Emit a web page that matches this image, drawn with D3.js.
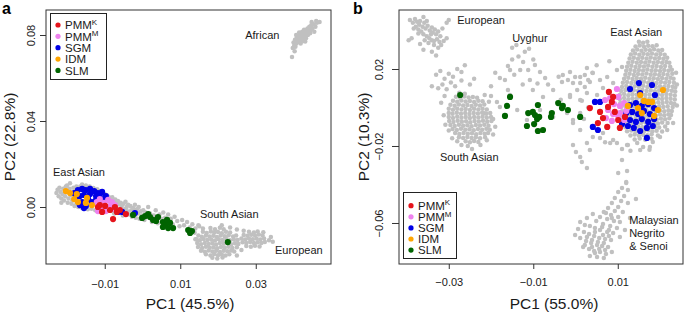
<!DOCTYPE html>
<html>
<head>
<meta charset="utf-8">
<script src="https://cdn.jsdelivr.net/npm/d3@7"></script>
<style>
  body { margin: 0; background: #fff; }
  svg { font-family: "Liberation Sans", Arial, Helvetica, sans-serif; }
</style>
</head>
<body>
<div id="chart"></div>
<script>
// ---------- dados (PC1, PC2) ----------
const legendNames = ["PMM", "PMM", "SGM", "IDM", "SLM"];
const legendSup = ["K", "M", "", "", ""];

// painel a
const aTicksX = [-0.01, 0.01, 0.03];
const aTicksY = [0.00, 0.04, 0.08];
const aTitleX = "PC1 (45.5%)";
const aTitleY = "PC2 (22.8%)";
const aLabels = [
  { text: "African", x: 0.0272, y: 0.0781 },
  { text: "East Asian", x: -0.0237, y: 0.0144 },
  { text: "South Asian", x: 0.0152, y: -0.0051 },
  { text: "European", x: 0.0351, y: -0.0219 }
];

const aGray = [
  // African
  [0.0398,0.0740],[0.0402,0.0752],[0.0405,0.0745],[0.0400,0.0765],[0.0408,0.0760],[0.0410,0.0772],[0.0404,0.0778],[0.0413,0.0783],[0.0415,0.0768],[0.0418,0.0790],[0.0412,0.0795],[0.0420,0.0778],[0.0422,0.0800],[0.0417,0.0805],[0.0425,0.0788],[0.0427,0.0810],[0.0423,0.0815],[0.0430,0.0795],[0.0432,0.0820],[0.0428,0.0825],[0.0435,0.0805],[0.0437,0.0830],[0.0440,0.0815],[0.0442,0.0838],[0.0445,0.0822],[0.0447,0.0845],[0.0450,0.0830],[0.0453,0.0850],[0.0458,0.0838],[0.0462,0.0857],[0.0455,0.0815],[0.0419,0.0760],[0.0426,0.0772],[0.0433,0.0785],[0.0409,0.0790],[0.0415,0.0812],[0.0438,0.0800],[0.0444,0.0808],[0.0396,0.0698],[0.0403,0.0725],[0.0469,0.0860],[0.0460,0.0865],[0.0448,0.0860],[0.0407,0.0800],[0.0431,0.0770],
  // East Asian band
  [-0.0228,0.0065],[-0.0225,0.0080],[-0.0222,0.0050],[-0.0220,0.0090],[-0.0217,0.0070],[-0.0215,0.0040],[-0.0212,0.0060],[-0.0210,0.0085],[-0.0208,0.0030],[-0.0205,0.0050],[-0.0203,0.0095],[-0.0200,0.0070],[-0.0198,0.0020],[-0.0196,0.0040],[-0.0193,0.0085],[-0.0190,0.0055],[-0.0188,0.0015],[-0.0186,0.0030],[-0.0183,0.0090],[-0.0180,0.0005],[-0.0178,0.0075],[-0.0192,0.0110],[-0.0175,0.0015],[-0.0170,0.0000],[-0.0165,0.0095],[-0.0160,-0.0005],[-0.0155,0.0092],[-0.0150,0.0100],[-0.0145,-0.0010],[-0.0140,0.0095],[-0.0135,-0.0008],[-0.0130,0.0088],[-0.0125,-0.0015],[-0.0120,0.0082],[-0.0115,0.0075],[-0.0110,0.0068],[-0.0105,-0.0025],[-0.0100,0.0060],[-0.0095,0.0055],[-0.0090,0.0048],[-0.0085,0.0042],[-0.0080,0.0045],[-0.0078,0.0030],[-0.0075,-0.0030],[-0.0072,0.0035],[-0.0068,0.0020],[-0.0065,0.0028],[-0.0062,0.0012],[-0.0058,0.0020],[-0.0055,0.0005],[-0.0052,-0.0040],[-0.0050,0.0015],[-0.0047,-0.0010],[-0.0045,0.0025],[-0.0042,0.0000],[-0.0040,-0.0020],[-0.0038,0.0010],[-0.0035,-0.0035],[-0.0032,0.0005],[-0.0030,-0.0015],[-0.0028,-0.0045],[-0.0025,-0.0005],[-0.0022,-0.0020],[-0.0020,0.0010],[-0.0018,-0.0050],[-0.0015,-0.0010],[-0.0012,-0.0030],[-0.0010,0.0000],[-0.0008,-0.0055],[-0.0005,-0.0020],[-0.0002,-0.0040],[0.0002,-0.0015],[0.0005,-0.0060],[0.0008,-0.0025],[0.0012,-0.0045],[0.0015,0.0000],[0.0020,-0.0030],[0.0025,-0.0070],[0.0030,-0.0040],[0.0035,-0.0015],[0.0040,-0.0075],[0.0045,-0.0035],[0.0050,-0.0055],[0.0055,-0.0025],[0.0060,-0.0050],[0.0068,-0.0035],[0.0075,-0.0055],[0.0080,-0.0080],[0.0085,-0.0045],[0.0092,-0.0065],[0.0098,-0.0090],[0.0105,-0.0060],[0.0110,-0.0085],[0.0118,-0.0070],[0.0125,-0.0095],[0.0132,-0.0080],[0.0140,-0.0100],[0.0148,-0.0085],[-0.0200,0.0100],[-0.0215,0.0020],[-0.0175,0.0095],[-0.0160,0.0105],
  // South Asian / European blobs
  [0.0180,-0.0098],[0.0192,-0.0103],[0.0205,-0.0097],[0.0215,-0.0104],
  [0.0160,-0.0115],[0.0170,-0.0121],[0.0181,-0.0114],[0.0190,-0.0119],[0.0200,-0.0116],[0.0210,-0.0122],[0.0221,-0.0115],[0.0232,-0.0119],
  [0.0148,-0.0133],[0.0157,-0.0138],[0.0168,-0.0132],[0.0178,-0.0137],[0.0188,-0.0134],[0.0197,-0.0139],[0.0207,-0.0133],[0.0218,-0.0136],[0.0228,-0.0131],[0.0240,-0.0137],[0.0248,-0.0133],
  [0.0143,-0.0150],[0.0152,-0.0155],[0.0162,-0.0149],[0.0172,-0.0154],[0.0182,-0.0151],[0.0192,-0.0156],[0.0202,-0.0150],[0.0212,-0.0153],[0.0222,-0.0149],[0.0232,-0.0155],[0.0242,-0.0151],[0.0252,-0.0154],
  [0.0145,-0.0168],[0.0155,-0.0173],[0.0165,-0.0167],[0.0175,-0.0172],[0.0185,-0.0169],[0.0195,-0.0174],[0.0205,-0.0168],[0.0215,-0.0171],[0.0225,-0.0167],[0.0235,-0.0173],[0.0245,-0.0169],[0.0254,-0.0172],
  [0.0147,-0.0186],[0.0158,-0.0191],[0.0168,-0.0185],[0.0178,-0.0190],[0.0188,-0.0187],[0.0198,-0.0192],[0.0208,-0.0186],[0.0218,-0.0189],[0.0228,-0.0185],[0.0238,-0.0191],[0.0250,-0.0187],
  [0.0155,-0.0203],[0.0165,-0.0208],[0.0175,-0.0202],[0.0185,-0.0207],[0.0195,-0.0204],[0.0205,-0.0209],[0.0215,-0.0203],[0.0225,-0.0206],[0.0235,-0.0202],[0.0243,-0.0207],
  [0.0168,-0.0220],[0.0180,-0.0225],[0.0190,-0.0219],[0.0200,-0.0224],[0.0210,-0.0221],[0.0220,-0.0226],[0.0230,-0.0220],
  [0.0185,-0.0236],[0.0198,-0.0240],[0.0212,-0.0235],
  [0.0282,-0.0115],[0.0295,-0.0119],[0.0305,-0.0114],
  [0.0268,-0.0130],[0.0278,-0.0134],[0.0288,-0.0129],[0.0298,-0.0133],[0.0308,-0.0128],[0.0318,-0.0132],
  [0.0262,-0.0147],[0.0272,-0.0151],[0.0282,-0.0146],[0.0292,-0.0150],[0.0302,-0.0147],[0.0312,-0.0151],[0.0322,-0.0146],
  [0.0265,-0.0164],[0.0275,-0.0168],[0.0285,-0.0163],[0.0295,-0.0167],[0.0305,-0.0164],[0.0315,-0.0168],[0.0324,-0.0163],
  [0.0275,-0.0181],[0.0287,-0.0185],[0.0298,-0.0180],[0.0310,-0.0184],
  [0.0335,-0.0155],[0.0340,-0.0140],[0.0250,-0.0105],[0.0232,-0.0095],[0.0210,-0.0085],[0.0268,-0.0110],[0.0320,-0.0118],[0.0150,-0.0090],[0.0160,-0.0100],[0.0138,-0.0120],[0.0140,-0.0150],[0.0250,-0.0225],[0.0262,-0.0200],[0.0345,-0.0162]
];

const aPmmK = [[-0.0118,0.0000],[-0.0107,-0.0023],[-0.0099,0.0005],[-0.0086,-0.0014],[-0.0078,-0.0056],[-0.0068,-0.0023],[-0.0044,-0.0033],[-0.0113,0.0009],[-0.0073,0.0000],[-0.0060,-0.0014]];
const aPmmM = [[-0.0121,0.0023],[-0.0113,0.0037],[-0.0102,0.0019],[-0.0091,0.0033],[-0.0081,0.0023],[-0.0073,0.0009],[-0.0086,0.0005],[-0.0102,-0.0005],[-0.0115,0.0000],[-0.0097,-0.0019],[-0.0118,-0.0019],[-0.0081,-0.0009]];
const aSgm = [[-0.0181,0.0065],[-0.0171,0.0079],[-0.0160,0.0084],[-0.0150,0.0079],[-0.0139,0.0084],[-0.0128,0.0074],[-0.0118,0.0065],[-0.0113,0.0051],[-0.0123,0.0051],[-0.0139,0.0060],[-0.0155,0.0056],[-0.0166,0.0051],[-0.0176,0.0047],[-0.0160,0.0023],[-0.0150,0.0005],[-0.0166,0.0009],[-0.0134,0.0023],[-0.0123,0.0033],[-0.0113,0.0019],[-0.0102,0.0033],[-0.0097,0.0051],[-0.0107,0.0070],[-0.0144,0.0037],[-0.0054,-0.0023],[-0.0020,-0.0028],[-0.0065,-0.0023],[-0.0155,-0.0005]];
const aIdm = [[-0.0192,0.0065],[-0.0181,0.0037],[-0.0171,0.0023],[-0.0147,0.0042],[-0.0150,0.0019],[-0.0174,0.0060],[-0.0134,0.0009],[-0.0203,0.0074]];
const aSlm = [[-0.0025,-0.0037],[-0.0001,-0.0051],[0.0015,-0.0033],[0.0020,-0.0047],[0.0028,-0.0060],[0.0041,-0.0047],[0.0054,-0.0070],[0.0060,-0.0084],[0.0065,-0.0060],[0.0073,-0.0074],[0.0081,-0.0098],[0.0068,-0.0098],[0.0054,-0.0093],[0.0121,-0.0107],[0.0131,-0.0112],[0.0126,-0.0121],[0.0226,-0.0163],[0.0036,-0.0065],[0.0007,-0.0042]];

// painel b
const bTicksX = [-0.03, -0.01, 0.01];
const bTicksY = [0.02, -0.02, -0.06];
const bTitleX = "PC1 (55.0%)";
const bTitleY = "PC2 (10.3%)";
const bLabels = [
  { text: "European", x: -0.0280, y: 0.0434 },
  { text: "Uyghur", x: -0.0150, y: 0.0340 },
  { text: "East Asian", x: 0.0082, y: 0.0371 },
  { text: "South Asian", x: -0.0321, y: -0.0278 },
  { text: "Malaysian", x: 0.0127, y: -0.0605 },
  { text: "Negrito", x: 0.0127, y: -0.0673 },
  { text: "& Senoi", x: 0.0127, y: -0.0740 }
];

const bGray = [
  // European
  [-0.0392,0.0455],[-0.0385,0.0440],[-0.0380,0.0460],[-0.0375,0.0445],[-0.0370,0.0430],[-0.0368,0.0450],[-0.0362,0.0420],[-0.0358,0.0440],[-0.0355,0.0410],[-0.0350,0.0425],[-0.0345,0.0400],[-0.0340,0.0415],[-0.0338,0.0390],[-0.0333,0.0405],[-0.0330,0.0380],[-0.0325,0.0395],[-0.0320,0.0370],[-0.0372,0.0405],[-0.0365,0.0395],[-0.0360,0.0380],[-0.0352,0.0370],[-0.0346,0.0360],[-0.0340,0.0350],[-0.0335,0.0345],[-0.0328,0.0355],[-0.0322,0.0340],[-0.0378,0.0420],[-0.0383,0.0410],[-0.0357,0.0350],[-0.0348,0.0335],[-0.0318,0.0325],[-0.0312,0.0345],[-0.0305,0.0360],[-0.0395,0.0350],[-0.0388,0.0360],[-0.0368,0.0330],[-0.0360,0.0300],[-0.0340,0.0290],[-0.0330,0.0270],[-0.0305,0.0440],[-0.0300,0.0455],[-0.0360,0.0470],[-0.0352,0.0450],[-0.0315,0.0410],[-0.0325,0.0310],[-0.0372,0.0385],[-0.0342,0.0380],[-0.0335,0.0325],
  // Uyghur
  [-0.0150,0.0310],[-0.0140,0.0325],[-0.0120,0.0290],[-0.0110,0.0305],[-0.0150,0.0250],[-0.0135,0.0265],[-0.0124,0.0236],[-0.0160,0.0215],[-0.0155,0.0195],[-0.0131,0.0195],[-0.0112,0.0195],[-0.0096,0.0221],[-0.0084,0.0184],[-0.0100,0.0250],[-0.0179,0.0153],[-0.0167,0.0143],[-0.0108,0.0143],[-0.0072,0.0153],[-0.0160,0.0091],[-0.0155,0.0065],[-0.0190,0.0180],[-0.0145,0.0170],[-0.0090,0.0125],[-0.0125,0.0120],[-0.0200,0.0110],
  // scattered middle
  [-0.0053,0.0091],[-0.0032,0.0133],[-0.0013,0.0184],[-0.0006,0.0127],[0.0011,0.0158],[0.0027,0.0205],[0.0004,0.0091],[0.0022,0.0106],[0.0030,0.0143],[-0.0013,0.0065],[-0.0077,0.0055],[-0.0101,0.0091],[-0.0186,0.0029],[-0.0179,0.0003],[-0.0138,-0.0013],[-0.0084,-0.0013],[-0.0115,-0.0065],[-0.0053,-0.0049],[-0.0020,-0.0029],[-0.0006,-0.0065],[0.0011,-0.0029],[-0.0040,0.0160],[-0.0065,0.0120],[0.0040,0.0180],[0.0015,0.0035],[-0.0035,0.0040],[-0.0215,-0.0030],[-0.0200,0.0060],
  // South Asian
  [-0.0275,0.0077],[-0.0262,0.0072],
  [-0.0283,0.0056],[-0.0273,0.0051],[-0.0263,0.0057],[-0.0253,0.0052],[-0.0243,0.0055],[-0.0233,0.0050],
  [-0.0290,0.0035],[-0.0280,0.0030],[-0.0270,0.0036],[-0.0260,0.0031],[-0.0250,0.0034],[-0.0240,0.0029],[-0.0230,0.0035],[-0.0220,0.0032],
  [-0.0296,0.0014],[-0.0286,0.0009],[-0.0276,0.0015],[-0.0266,0.0010],[-0.0256,0.0013],[-0.0246,0.0008],[-0.0236,0.0014],[-0.0226,0.0011],[-0.0216,0.0015],
  [-0.0300,-0.0007],[-0.0290,-0.0012],[-0.0280,-0.0006],[-0.0270,-0.0011],[-0.0260,-0.0008],[-0.0250,-0.0013],[-0.0240,-0.0007],[-0.0230,-0.0010],[-0.0220,-0.0006],[-0.0210,-0.0011],
  [-0.0300,-0.0028],[-0.0291,-0.0033],[-0.0281,-0.0027],[-0.0271,-0.0032],[-0.0261,-0.0029],[-0.0251,-0.0034],[-0.0241,-0.0028],[-0.0231,-0.0031],[-0.0221,-0.0027],[-0.0211,-0.0032],[-0.0202,-0.0028],
  [-0.0300,-0.0049],[-0.0290,-0.0054],[-0.0280,-0.0048],[-0.0270,-0.0053],[-0.0260,-0.0050],[-0.0250,-0.0055],[-0.0240,-0.0049],[-0.0230,-0.0052],[-0.0220,-0.0048],[-0.0210,-0.0053],[-0.0200,-0.0049],
  [-0.0299,-0.0070],[-0.0289,-0.0075],[-0.0279,-0.0069],[-0.0269,-0.0074],[-0.0259,-0.0071],[-0.0249,-0.0076],[-0.0239,-0.0070],[-0.0229,-0.0073],[-0.0219,-0.0069],[-0.0209,-0.0074],[-0.0199,-0.0070],
  [-0.0296,-0.0091],[-0.0286,-0.0096],[-0.0276,-0.0090],[-0.0266,-0.0095],[-0.0256,-0.0092],[-0.0246,-0.0097],[-0.0236,-0.0091],[-0.0226,-0.0094],[-0.0216,-0.0090],[-0.0206,-0.0095],
  [-0.0291,-0.0112],[-0.0281,-0.0117],[-0.0271,-0.0111],[-0.0261,-0.0116],[-0.0251,-0.0113],[-0.0241,-0.0118],[-0.0231,-0.0112],[-0.0221,-0.0115],[-0.0211,-0.0111],[-0.0203,-0.0116],
  [-0.0285,-0.0133],[-0.0275,-0.0138],[-0.0265,-0.0132],[-0.0255,-0.0137],[-0.0245,-0.0134],[-0.0235,-0.0139],[-0.0225,-0.0133],[-0.0215,-0.0136],[-0.0207,-0.0132],
  [-0.0276,-0.0154],[-0.0266,-0.0159],[-0.0256,-0.0153],[-0.0246,-0.0158],[-0.0236,-0.0155],[-0.0226,-0.0160],[-0.0214,-0.0154],
  [-0.0260,-0.0175],[-0.0250,-0.0180],[-0.0240,-0.0174],[-0.0230,-0.0179],
  [-0.0330,0.0170],[-0.0320,0.0190],[-0.0310,0.0150],[-0.0300,0.0175],[-0.0290,0.0160],[-0.0280,0.0200],[-0.0270,0.0185],[-0.0262,0.0220],[-0.0315,0.0120],[-0.0325,0.0100],[-0.0305,0.0095],[-0.0295,0.0130],[-0.0285,0.0110],[-0.0270,0.0140],[-0.0250,0.0120],[-0.0240,0.0150],[-0.0310,0.0060],[-0.0318,0.0025],[-0.0312,-0.0040],[-0.0308,-0.0090],[-0.0300,-0.0120],[-0.0292,-0.0160],[-0.0280,-0.0175],[-0.0270,-0.0195],[-0.0255,-0.0200],[-0.0245,-0.0215],[-0.0225,-0.0195],[-0.0210,-0.0170],[-0.0195,-0.0140],[-0.0190,-0.0100],[-0.0195,-0.0060],[-0.0205,0.0030],[-0.0215,0.0065],[-0.0340,0.0110],
  // East Asian
  [0.0150,0.0342],[0.0160,0.0336],[0.0170,0.0341],
  [0.0142,0.0317],[0.0152,0.0322],[0.0162,0.0316],[0.0172,0.0321],[0.0182,0.0318],[0.0192,0.0323],
  [0.0136,0.0296],[0.0146,0.0301],[0.0156,0.0295],[0.0166,0.0300],[0.0176,0.0297],[0.0186,0.0302],[0.0196,0.0296],[0.0205,0.0299],
  [0.0131,0.0275],[0.0141,0.0280],[0.0151,0.0274],[0.0161,0.0279],[0.0171,0.0276],[0.0181,0.0281],[0.0191,0.0275],[0.0201,0.0278],[0.0211,0.0274],
  [0.0128,0.0254],[0.0138,0.0259],[0.0148,0.0253],[0.0158,0.0258],[0.0168,0.0255],[0.0178,0.0260],[0.0188,0.0254],[0.0198,0.0257],[0.0208,0.0253],[0.0217,0.0258],
  [0.0125,0.0233],[0.0135,0.0238],[0.0145,0.0232],[0.0155,0.0237],[0.0165,0.0234],[0.0175,0.0239],[0.0185,0.0233],[0.0195,0.0236],[0.0205,0.0232],[0.0215,0.0237],[0.0222,0.0233],
  [0.0122,0.0212],[0.0132,0.0217],[0.0142,0.0211],[0.0152,0.0216],[0.0162,0.0213],[0.0172,0.0218],[0.0182,0.0212],[0.0192,0.0215],[0.0202,0.0211],[0.0212,0.0216],[0.0224,0.0212],
  [0.0120,0.0191],[0.0130,0.0196],[0.0140,0.0190],[0.0150,0.0195],[0.0160,0.0192],[0.0170,0.0197],[0.0180,0.0191],[0.0190,0.0194],[0.0200,0.0190],[0.0210,0.0195],[0.0220,0.0191],[0.0228,0.0196],
  [0.0118,0.0170],[0.0128,0.0175],[0.0138,0.0169],[0.0148,0.0174],[0.0158,0.0171],[0.0168,0.0176],[0.0178,0.0170],[0.0188,0.0173],[0.0198,0.0169],[0.0208,0.0174],[0.0218,0.0170],[0.0229,0.0175],
  [0.0115,0.0149],[0.0125,0.0154],[0.0135,0.0148],[0.0145,0.0153],[0.0155,0.0150],[0.0165,0.0155],[0.0175,0.0149],[0.0185,0.0152],[0.0195,0.0148],[0.0205,0.0153],[0.0215,0.0149],[0.0225,0.0154],[0.0232,0.0150],
  [0.0112,0.0128],[0.0122,0.0133],[0.0132,0.0127],[0.0142,0.0132],[0.0152,0.0129],[0.0162,0.0134],[0.0172,0.0128],[0.0182,0.0131],[0.0192,0.0127],[0.0202,0.0132],[0.0212,0.0128],[0.0222,0.0133],[0.0233,0.0129],
  [0.0110,0.0107],[0.0120,0.0112],[0.0130,0.0106],[0.0140,0.0111],[0.0150,0.0108],[0.0160,0.0113],[0.0170,0.0107],[0.0180,0.0110],[0.0190,0.0106],[0.0200,0.0111],[0.0210,0.0107],[0.0220,0.0112],[0.0230,0.0108],[0.0236,0.0104],
  [0.0108,0.0086],[0.0118,0.0091],[0.0128,0.0085],[0.0138,0.0090],[0.0148,0.0087],[0.0158,0.0092],[0.0168,0.0086],[0.0178,0.0089],[0.0188,0.0085],[0.0198,0.0090],[0.0208,0.0086],[0.0218,0.0091],[0.0228,0.0087],[0.0236,0.0083],
  [0.0105,0.0065],[0.0115,0.0070],[0.0125,0.0064],[0.0135,0.0069],[0.0145,0.0066],[0.0155,0.0071],[0.0165,0.0065],[0.0175,0.0068],[0.0185,0.0064],[0.0195,0.0069],[0.0205,0.0065],[0.0215,0.0070],[0.0225,0.0066],[0.0235,0.0062],
  [0.0105,0.0044],[0.0115,0.0049],[0.0125,0.0043],[0.0135,0.0048],[0.0145,0.0045],[0.0155,0.0050],[0.0165,0.0044],[0.0175,0.0047],[0.0185,0.0043],[0.0195,0.0048],[0.0205,0.0044],[0.0215,0.0049],[0.0225,0.0045],[0.0235,0.0041],
  [0.0106,0.0023],[0.0116,0.0028],[0.0126,0.0022],[0.0136,0.0027],[0.0146,0.0024],[0.0156,0.0029],[0.0166,0.0023],[0.0176,0.0026],[0.0186,0.0022],[0.0196,0.0027],[0.0206,0.0023],[0.0216,0.0028],[0.0226,0.0024],[0.0234,0.0020],
  [0.0108,0.0002],[0.0118,0.0007],[0.0128,0.0001],[0.0138,0.0006],[0.0148,0.0003],[0.0158,0.0008],[0.0168,0.0002],[0.0178,0.0005],[0.0188,0.0001],[0.0198,0.0006],[0.0208,0.0002],[0.0218,0.0007],[0.0230,0.0003],
  [0.0110,-0.0019],[0.0120,-0.0014],[0.0130,-0.0020],[0.0140,-0.0015],[0.0150,-0.0018],[0.0160,-0.0013],[0.0170,-0.0019],[0.0180,-0.0016],[0.0190,-0.0020],[0.0200,-0.0015],[0.0210,-0.0019],[0.0220,-0.0014],[0.0228,-0.0018],
  [0.0110,-0.0040],[0.0120,-0.0035],[0.0130,-0.0041],[0.0140,-0.0036],[0.0150,-0.0039],[0.0160,-0.0034],[0.0170,-0.0040],[0.0180,-0.0037],[0.0190,-0.0041],[0.0200,-0.0036],[0.0210,-0.0040],[0.0220,-0.0035],[0.0226,-0.0039],
  [0.0112,-0.0061],[0.0122,-0.0056],[0.0132,-0.0062],[0.0142,-0.0057],[0.0152,-0.0060],[0.0162,-0.0055],[0.0172,-0.0061],[0.0182,-0.0058],[0.0192,-0.0062],[0.0202,-0.0057],[0.0212,-0.0061],[0.0222,-0.0056],
  [0.0115,-0.0082],[0.0125,-0.0077],[0.0135,-0.0083],[0.0145,-0.0078],[0.0155,-0.0081],[0.0165,-0.0076],[0.0175,-0.0082],[0.0185,-0.0079],[0.0195,-0.0083],[0.0205,-0.0078],[0.0218,-0.0081],
  [0.0118,-0.0103],[0.0128,-0.0098],[0.0138,-0.0104],[0.0148,-0.0099],[0.0158,-0.0102],[0.0168,-0.0097],[0.0178,-0.0103],[0.0188,-0.0100],[0.0198,-0.0104],[0.0212,-0.0099],
  [0.0122,-0.0124],[0.0132,-0.0119],[0.0142,-0.0125],[0.0152,-0.0120],[0.0162,-0.0123],[0.0172,-0.0118],[0.0182,-0.0124],[0.0192,-0.0121],[0.0205,-0.0125],
  [0.0130,-0.0145],[0.0140,-0.0140],[0.0150,-0.0146],[0.0160,-0.0141],[0.0170,-0.0144],[0.0180,-0.0139],[0.0195,-0.0145],
  [0.0140,-0.0166],[0.0152,-0.0161],[0.0165,-0.0167],[0.0180,-0.0162],
  [-0.0030,0.0169],[-0.0018,0.0143],[-0.0001,0.0158],[0.0011,0.0127],[0.0022,0.0169],[0.0034,0.0132],[0.0041,0.0179],[0.0058,0.0143],[0.0075,0.0158],[0.0089,0.0127],[0.0065,0.0101],[0.0098,0.0195],[0.0110,0.0210],[0.0027,0.0075],[0.0051,0.0065],[0.0011,0.0039],[-0.0013,0.0055],[0.0041,-0.0153],[0.0065,-0.0132],[0.0089,-0.0169],[0.0011,-0.0117],[0.0027,-0.0184],[-0.0006,-0.0081],[0.0098,-0.0184],[0.0122,-0.0195],[0.0146,-0.0184],[0.0160,-0.0205],[0.0183,-0.0179],[0.0200,-0.0153],[0.0217,-0.0117],[0.0231,-0.0081],[0.0050,0.0220],[0.0080,0.0240],[0.0030,0.0000],[0.0020,-0.0060],[0.0070,-0.0180],[0.0110,-0.0215],[0.0130,-0.0225],[0.0175,-0.0220],[0.0240,0.0010],[0.0240,0.0120],[0.0238,0.0180],
  // Malaysian Negrito & Senoi
  [-0.0006,-0.0195],[0.0011,-0.0257],[0.0015,-0.0283],[0.0027,-0.0314],[0.0101,-0.0340],[0.0122,-0.0330],[0.0120,-0.0387],[0.0082,-0.0184],[0.0124,-0.0195],[0.0058,-0.0158],[0.0034,-0.0221],[0.0153,-0.0221],[0.0176,-0.0205],[0.0001,-0.0231],[0.0110,-0.0273],
  [0.0120,-0.0392],[0.0110,-0.0418],[0.0124,-0.0429],[0.0101,-0.0439],[0.0115,-0.0460],[0.0093,-0.0470],[0.0108,-0.0486],[0.0124,-0.0496],[0.0086,-0.0496],[0.0101,-0.0517],[0.0077,-0.0522],[0.0093,-0.0538],[0.0112,-0.0543],[0.0067,-0.0543],[0.0084,-0.0558],[0.0101,-0.0569],[0.0058,-0.0569],[0.0075,-0.0579],[0.0091,-0.0590],[0.0105,-0.0595],[0.0049,-0.0590],[0.0065,-0.0605],[0.0082,-0.0615],[0.0098,-0.0626],[0.0011,-0.0595],[0.0022,-0.0610],[0.0034,-0.0615],[0.0046,-0.0626],[0.0058,-0.0636],[0.0075,-0.0647],[0.0089,-0.0652],[0.0006,-0.0631],[0.0020,-0.0647],[0.0032,-0.0657],[0.0044,-0.0668],[0.0056,-0.0678],[0.0070,-0.0683],[0.0084,-0.0688],[0.0011,-0.0678],[0.0025,-0.0694],[0.0037,-0.0704],[0.0051,-0.0714],[0.0063,-0.0719],[0.0077,-0.0725],[0.0018,-0.0725],[0.0032,-0.0735],[0.0044,-0.0745],[0.0058,-0.0751],[0.0072,-0.0761],[0.0034,-0.0771],[0.0051,-0.0777],[0.0067,-0.0782],[0.0129,-0.0574],[0.0143,-0.0475],[0.0105,-0.0673],[0.0086,-0.0751],[0.0027,-0.0574],[0.0041,-0.0553],[-0.0001,-0.0662],[0.0117,-0.0636],
  [0.0046,-0.0647],[0.0065,-0.0662],[0.0079,-0.0668],[0.0027,-0.0673],[0.0039,-0.0688],[0.0053,-0.0699],[0.0067,-0.0704],[0.0022,-0.0714],[0.0039,-0.0725],[0.0056,-0.0735],[0.0070,-0.0740],[0.0046,-0.0756],[0.0079,-0.0636],[0.0063,-0.0621],[0.0086,-0.0574],[0.0072,-0.0548]
];

const bPmmK = [[0.0079,0.0081],[0.0089,0.0055],[0.0034,-0.0003],[0.0058,-0.0023],[0.0065,-0.0055],[0.0053,-0.0081],[0.0075,-0.0101],[0.0105,-0.0106],[0.0086,0.0029],[0.0093,-0.0023],[0.0117,-0.0049],[0.0101,-0.0065],[0.0077,0.0003]];
const bPmmM = [[0.0070,0.0039],[0.0082,0.0049],[0.0101,0.0055],[0.0091,0.0018],[0.0105,0.0008],[0.0115,0.0023],[0.0077,-0.0013],[0.0089,-0.0034],[0.0105,-0.0029],[0.0120,-0.0018],[0.0072,-0.0055],[0.0086,-0.0070],[0.0101,-0.0044],[0.0115,-0.0065],[0.0098,0.0096]];
const bSgm = [[0.0129,0.0013],[0.0143,0.0023],[0.0157,0.0008],[0.0172,0.0018],[0.0186,-0.0003],[0.0134,-0.0023],[0.0148,-0.0034],[0.0162,-0.0018],[0.0176,-0.0034],[0.0129,-0.0065],[0.0143,-0.0075],[0.0157,-0.0060],[0.0172,-0.0075],[0.0186,-0.0060],[0.0138,-0.0106],[0.0153,-0.0122],[0.0169,-0.0106],[0.0183,-0.0096],[0.0124,-0.0096],[0.0120,-0.0029],[0.0150,0.0127],[0.0181,0.0117],[0.0129,0.0096],[0.0058,0.0029],[0.0041,-0.0101],[0.0053,-0.0117],[0.0169,-0.0158],[0.0153,0.0075],[0.0188,0.0065],[0.0046,0.0029],[0.0110,-0.0086]];
const bIdm = [[0.0207,0.0091],[0.0153,0.0065],[0.0172,0.0029],[0.0181,0.0029],[0.0148,-0.0003],[0.0195,-0.0013],[0.0186,-0.0044],[0.0157,-0.0029],[0.0124,0.0008],[0.0162,0.0034]];
const bSlm = [[-0.0273,0.0065],[-0.0155,0.0055],[-0.0162,0.0008],[-0.0167,-0.0044],[-0.0112,-0.0029],[-0.0101,-0.0023],[-0.0089,0.0013],[-0.0096,-0.0039],[-0.0086,-0.0049],[-0.0091,-0.0060],[-0.0115,-0.0096],[-0.0098,-0.0086],[-0.0089,-0.0122],[-0.0077,-0.0117],[-0.0056,-0.0029],[-0.0058,-0.0049],[-0.0041,0.0023],[-0.0032,-0.0003],[-0.0030,0.0008],[-0.0018,-0.0013],[0.0011,-0.0049]];

// ---------- desenho ----------
const grupoCores = ["#e5131b", "#ee82ee", "#0000e6", "#ffa500", "#006400"];
const ordemDesenho = [2, 1, 0, 3, 4]; // SGM, PMM^M, PMM^K, IDM, SLM
const corTexto = "#1a1a1a";

const svg = d3.select("#chart")
  .append("svg")
  .attr("width", 685)
  .attr("height", 313);

function montarPainel(cfg) {
  const { box } = cfg;

  const x = d3.scaleLinear().domain(cfg.xDomain).range([box.left, box.right]);
  const y = d3.scaleLinear().domain(cfg.yDomain).range([box.bottom, box.top]);

  const g = svg.append("g");

  // pontos cinzas
  g.append("g")
    .selectAll("circle")
    .data(cfg.gray)
    .join("circle")
    .attr("cx", d => x(d[0]))
    .attr("cy", d => y(d[1]))
    .attr("r", 2.25)
    .attr("fill", "#c0c0c0");

  // grupos coloridos
  ordemDesenho.forEach(i => {
    g.append("g")
      .selectAll("circle")
      .data(cfg.groups[i])
      .join("circle")
      .attr("cx", d => x(d[0]))
      .attr("cy", d => y(d[1]))
      .attr("r", 3.1)
      .attr("fill", grupoCores[i]);
  });

  // caixa
  g.append("rect")
    .attr("x", box.left)
    .attr("y", box.top)
    .attr("width", box.right - box.left)
    .attr("height", box.bottom - box.top)
    .attr("fill", "none")
    .attr("stroke", "#333")
    .attr("stroke-width", 1);

  // eixos
  const fmt = d3.format(".2f");
  const ax = g.append("g")
    .attr("transform", `translate(0,${box.bottom})`)
    .call(d3.axisBottom(x).tickValues(cfg.ticksX).tickSize(5).tickPadding(cfg.padX).tickFormat(fmt));
  ax.select(".domain").remove();

  const ay = g.append("g")
    .attr("transform", `translate(${box.left},0)`)
    .call(d3.axisLeft(y).tickValues(cfg.ticksY).tickSize(cfg.tickY).tickFormat(fmt));
  ay.select(".domain").remove();
  ay.selectAll(".tick text")
    .attr("transform", "rotate(-90)")
    .attr("x", 0)
    .attr("y", -cfg.distY)
    .attr("dy", null)
    .attr("text-anchor", "middle");

  [ax, ay].forEach(a => {
    a.selectAll(".tick line").attr("stroke", "#333");
    a.selectAll(".tick text")
      .attr("fill", corTexto)
      .style("font-size", "11px")
      .style("font-family", "'Liberation Sans', Arial, sans-serif");
  });

  // titulos
  g.append("text")
    .attr("x", cfg.titleXPos)
    .attr("y", 309)
    .attr("text-anchor", "middle")
    .attr("fill", corTexto)
    .style("font-size", "15.5px")
    .text(cfg.titleX);

  g.append("text")
    .attr("transform", `translate(${cfg.titleYPos},137) rotate(-90)`)
    .attr("text-anchor", "middle")
    .attr("fill", corTexto)
    .style("font-size", "15.5px")
    .text(cfg.titleY);

  // letra do painel
  g.append("text")
    .attr("x", cfg.letterX)
    .attr("y", 14)
    .attr("fill", "#000")
    .style("font-size", "16px")
    .style("font-weight", "bold")
    .text(cfg.letter);

  // rotulos das populacoes
  g.append("g")
    .selectAll("text")
    .data(cfg.labels)
    .join("text")
    .attr("x", d => x(d.x))
    .attr("y", d => y(d.y))
    .attr("fill", corTexto)
    .style("font-size", "11px")
    .text(d => d.text);

  // legenda
  const lg = cfg.legend;
  g.append("rect")
    .attr("x", lg.x)
    .attr("y", lg.y)
    .attr("width", lg.w)
    .attr("height", lg.h)
    .attr("fill", "#fff")
    .attr("stroke", "#222")
    .attr("stroke-width", 1);

  legendNames.forEach((nome, i) => {
    const cy = lg.first + i * lg.step;
    g.append("circle")
      .attr("cx", lg.x + 7.5)
      .attr("cy", cy)
      .attr("r", 2.6)
      .attr("fill", grupoCores[i]);
    const t = g.append("text")
      .attr("x", lg.x + 14.5)
      .attr("y", cy + 4.2)
      .attr("fill", corTexto)
      .style("font-size", "11.5px")
      .text(nome);
    if (legendSup[i]) {
      t.append("tspan")
        .attr("dy", -4.5)
        .style("font-size", "8px")
        .text(legendSup[i]);
    }
  });
}

montarPainel({
  box: { left: 46, right: 331, top: 10, bottom: 264 },
  xDomain: [-0.02556, 0.04993],
  yDomain: [-0.02651, 0.09163],
  ticksX: aTicksX, ticksY: aTicksY,
  padX: 11, tickY: 6, distY: 11,
  gray: aGray,
  groups: [aPmmK, aPmmM, aSgm, aIdm, aSlm],
  labels: aLabels,
  titleX: aTitleX, titleY: aTitleY,
  titleXPos: 190, titleYPos: 15,
  letter: "a", letterX: 2,
  legend: { x: 50.5, y: 13.5, w: 56, h: 66, first: 25, step: 11.35 }
});

montarPainel({
  box: { left: 399, right: 683, top: 10, bottom: 264 },
  xDomain: [-0.04178, 0.02544],
  yDomain: [-0.0813, 0.05065],
  ticksX: bTicksX, ticksY: bTicksY,
  padX: 9.5, tickY: 7, distY: 16,
  gray: bGray,
  groups: [bPmmK, bPmmM, bSgm, bIdm, bSlm],
  labels: bLabels,
  titleX: bTitleX, titleY: bTitleY,
  titleXPos: 554, titleYPos: 369,
  letter: "b", letterX: 353,
  legend: { x: 403.5, y: 192.5, w: 53, h: 66, first: 205.7, step: 11.1 }
});
</script>
</body>
</html>
